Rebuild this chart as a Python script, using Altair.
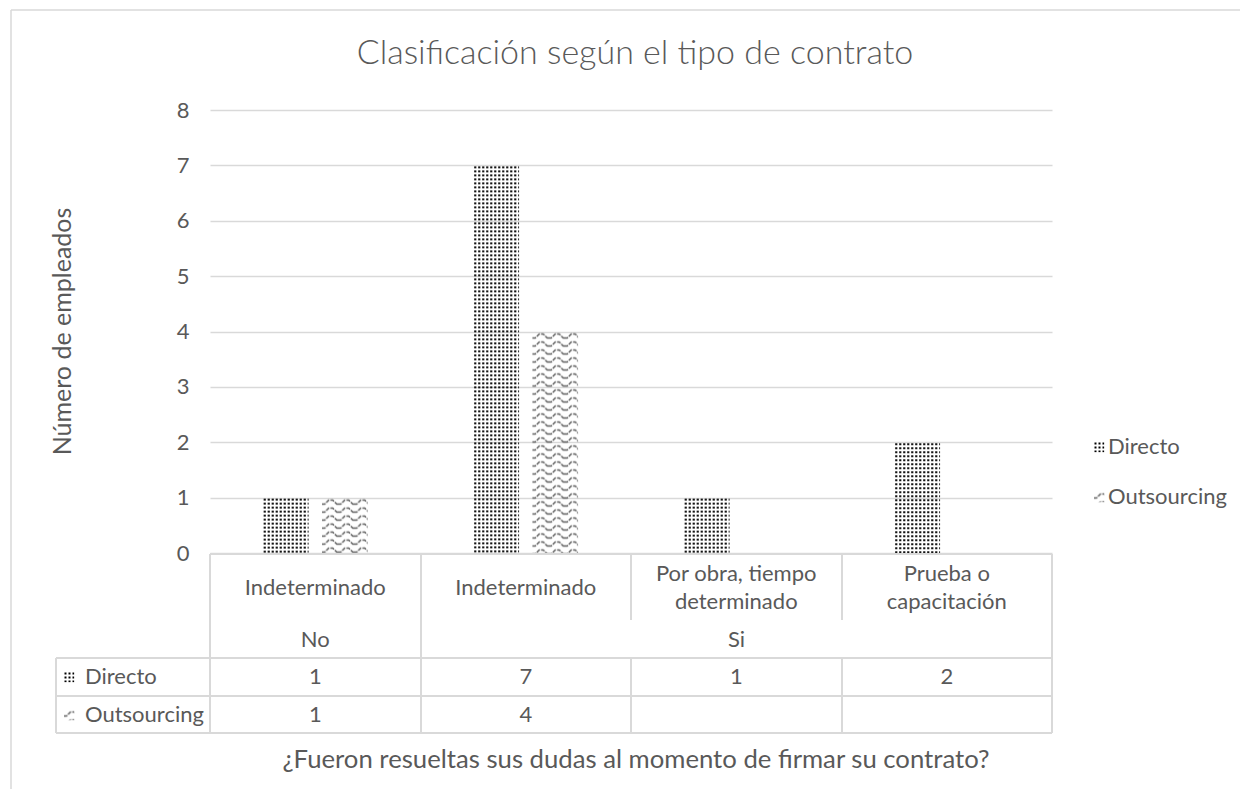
import altair as alt
import pandas as pd
from urllib.parse import quote

# ---------------- data ----------------
keys = ["No|Indeterminado", "Si|Indeterminado", "Si|Por obra", "Si|Prueba"]
contrato = ["Indeterminado", "Indeterminado", "Por obra, tiempo\ndeterminado", "Prueba o\ncapacitación"]
resueltas = ["No", "Si", "Si", "Si"]
directo = [1, 7, 1, 2]
outsourcing = [1, 4, None, None]
series = ["Directo", "Outsourcing"]
y_ticks = [0, 1, 2, 3, 4, 5, 6, 7, 8]

TITLE = "Clasificación según el tipo de contrato"
Y_TITLE = "Número de empleados"
X_TITLE = "¿Fueron resueltas sus dudas al momento de firmar su contrato?"

# ---------------- styles ----------------
FONT = "Lato"
TXT = "#595959"
LINE = "#d9d9d9"
FS = 22

DOTS = ("<svg xmlns='http://www.w3.org/2000/svg' width='100%' height='100%'>"
        "<defs><pattern id='p' width='4' height='4' patternUnits='userSpaceOnUse'>"
        "<rect x='1' y='1' width='2' height='2' fill='#000'/></pattern></defs>"
        "<rect width='100%' height='100%' fill='url(#p)'/></svg>")
WAVE = ("<svg xmlns='http://www.w3.org/2000/svg' width='100%' height='100%'>"
        "<defs><pattern id='w' width='16' height='8' patternUnits='userSpaceOnUse'>"
        "<path d='M0,6.5 L3,6.5 L7,2.5 L11,2.5 L15,6.5 L16,6.5' fill='none' stroke='#5f5f5f' "
        "stroke-width='1.5' stroke-dasharray='4,1.2'/></pattern></defs>"
        "<rect width='100%' height='100%' fill='url(#w)'/></svg>")
URLS = {"Directo": "data:image/svg+xml;charset=utf-8," + quote(DOTS),
        "Outsourcing": "data:image/svg+xml;charset=utf-8," + quote(WAVE)}

rows = []
for i, k in enumerate(keys):
    for s, vals in zip(series, [directo, outsourcing]):
        v = vals[i]
        rows.append({"key": k, "contrato": contrato[i], "resueltas": resueltas[i],
                     "serie": s, "valor": v,
                     "txt": "" if v is None else str(v),
                     "url": URLS[s]})
df = pd.DataFrame(rows)
df_bars = df[df["valor"].notna()].copy()
df_cat = pd.DataFrame({"key": keys, "contrato": contrato, "resueltas": resueltas})
df_cat["multi"] = df_cat["contrato"].str.contains("\n")

W, H = 842, 443
xscale = alt.Scale(domain=keys, paddingInner=0, paddingOuter=0)
yscale = alt.Scale(domain=[0, 8], nice=False)

base = alt.Chart(df_bars)

yaxis = alt.Axis(values=y_ticks, grid=True, gridColor=LINE, gridWidth=1.5,
                 domain=False, ticks=False, labelPadding=21, labelFontSize=FS,
                 labelColor=TXT, labelFont=FONT, title=Y_TITLE, titleFontSize=25,
                 titleFont=FONT, titleColor=TXT, titleFontWeight="normal",
                 titleAngle=270, titleX=-148, titleY=221, titleAlign="center",
                 titleBaseline="middle")

bars = base.mark_image(aspect=False).encode(
    x=alt.X("key:N", scale=xscale, axis=None, sort=keys),
    xOffset=alt.XOffset("serie:N", scale=alt.Scale(domain=series, paddingInner=0.22, paddingOuter=0.894)),
    y=alt.Y("valor:Q", scale=yscale, axis=yaxis),
    y2=alt.datum(0),
    url="url:N",
)

# ---- table lines ----
def hline(y, x1, x2):
    return alt.Chart(df_cat).mark_rule(color=LINE, strokeWidth=1.5).encode(
        x=alt.value(x1), x2=alt.value(x2), y=alt.value(y))

def vline(x, y1, y2):
    return alt.Chart(df_cat).mark_rule(color=LINE, strokeWidth=1.5).encode(
        x=alt.value(x), y=alt.value(y1), y2=alt.value(y2))

lines = [
    hline(444, 0, W), hline(548, -154, W), hline(586, -154, W), hline(623, -154, W),
    vline(0, 444, 623), vline(W, 444, 623), vline(-154, 548, 623), vline(211, 444, 623),
    vline(421, 444, 510), vline(421, 548, 623), vline(632, 444, 510), vline(632, 548, 623),
]

txt_kw = dict(font=FONT, fontSize=FS, color=TXT, baseline="middle", align="center")

cat_single = alt.Chart(df_cat[~df_cat["multi"]]).mark_text(**txt_kw).encode(
    x=alt.X("key:N", scale=xscale, sort=keys), y=alt.value(478), text="contrato:N")
cat_multi = alt.Chart(df_cat[df_cat["multi"]]).mark_text(lineBreak="\n", lineHeight=28, **txt_kw).encode(
    x=alt.X("key:N", scale=xscale, sort=keys), y=alt.value(464), text="contrato:N")

no_text = alt.Chart(df_cat[df_cat["resueltas"] == "No"]).mark_text(**txt_kw).encode(
    x=alt.X("key:N", scale=xscale, sort=keys), y=alt.value(530), text="resueltas:N")
si_text = alt.Chart(df_cat[df_cat["resueltas"] == "Si"].head(1)).mark_text(**txt_kw).encode(
    x=alt.value(526.5), y=alt.value(530), text="resueltas:N")

row_y = {"Directo": 567, "Outsourcing": 605}
val_layers = []
for s in series:
    val_layers.append(alt.Chart(df[df["serie"] == s]).mark_text(**txt_kw).encode(
        x=alt.X("key:N", scale=xscale, sort=keys), y=alt.value(row_y[s]), text="txt:N"))

df_ser = pd.DataFrame({"serie": series, "url": [URLS[s] for s in series]})
row_labels = []
legend = []
for s in series:
    d = df_ser[df_ser["serie"] == s]
    row_labels.append(alt.Chart(d).mark_image(width=11, height=11, align="center", baseline="middle", aspect=False).encode(
        x=alt.value(-141), y=alt.value(row_y[s]), url="url:N"))
    row_labels.append(alt.Chart(d).mark_text(font=FONT, fontSize=FS, color=TXT, baseline="middle", align="left").encode(
        x=alt.value(-125), y=alt.value(row_y[s]), text="serie:N"))
    ly = 337 if s == "Directo" else 387
    legend.append(alt.Chart(d).mark_image(width=11, height=11, align="center", baseline="middle", aspect=False).encode(
        x=alt.value(889), y=alt.value(ly), url="url:N"))
    legend.append(alt.Chart(d).mark_text(font=FONT, fontSize=FS, color=TXT, baseline="middle", align="left").encode(
        x=alt.value(898), y=alt.value(ly), text="serie:N"))

title_df = pd.DataFrame({"t": [TITLE], "xt": [X_TITLE]})
title = alt.Chart(title_df).mark_text(font=FONT, fontSize=34, fontWeight=300, color=TXT, align="center",
                                      baseline="alphabetic").encode(
    x=alt.value(425), y=alt.value(-46), text="t:N")
xtitle = alt.Chart(title_df).mark_text(font=FONT, fontSize=25.7, color=TXT, align="center", baseline="middle").encode(
    x=alt.value(426), y=alt.value(650), text="xt:N")

border = [
    alt.Chart(title_df).mark_rule(color=LINE, strokeWidth=1.5).encode(
        x=alt.value(-199), x2=alt.value(1040), y=alt.value(-100)),
    alt.Chart(title_df).mark_rule(color=LINE, strokeWidth=1.5).encode(
        x=alt.value(-199), y=alt.value(-100), y2=alt.value(690)),
]

chart = alt.layer(bars, *lines, cat_single, cat_multi, no_text, si_text, *val_layers, *row_labels, *legend,
                  title, xtitle, *border).properties(
    width=W, height=H,
    autosize=alt.AutoSizeParams(type="none"),
    padding={"left": 202, "top": 102, "right": 188, "bottom": 236},
).configure(font=FONT).configure_view(stroke=None)

chart.save("out.html", embed_options={"renderer": "svg", "actions": False})
